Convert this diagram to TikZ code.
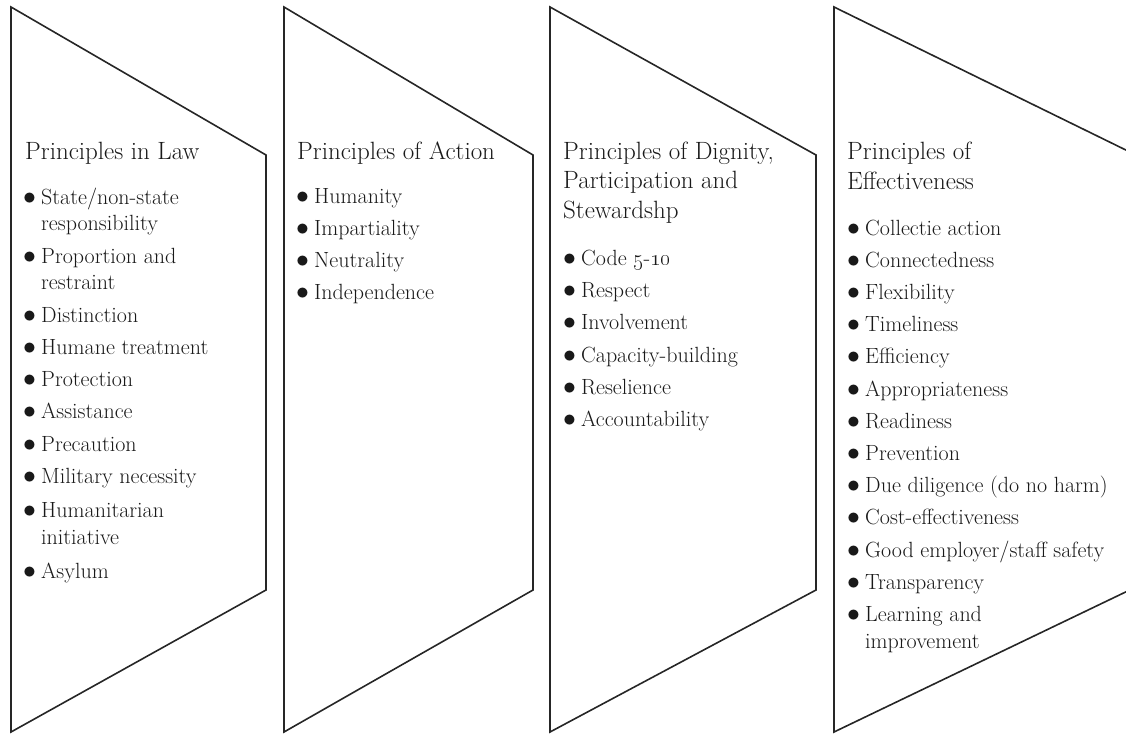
\RequirePackage{fix-cm}
\documentclass[tikz,border=0pt]{standalone}
\newcommand\bul{\makebox[18pt][l]{\scalebox{1.17}{$\bullet$}}}
\begin{document}
\begin{tikzpicture}[x=1pt,y=-1pt,
  chev/.style={draw=black!85, line width=1.6pt, line join=miter},
  ttl/.style={anchor=base west, inner sep=0pt, text=black!90, font=\fontsize{25}{30}\selectfont},
  itm/.style={anchor=base west, inner sep=0pt, text=black!90, font=\fontsize{22}{27}\selectfont}]
\clip (0,0) rectangle (1126,733);
% chevron shapes
\draw[chev] (11,7) -- (266,155) -- (266,590) -- (11,732) -- cycle;
\draw[chev] (284,7) -- (533,155) -- (533,590) -- (284,732) -- cycle;
\draw[chev] (550,7) -- (816,155) -- (816,590) -- (550,732) -- cycle;
\draw[chev] (834,7) -- (1136,155) -- (1136,587) -- (834,732) -- cycle;
% column 1
\node[ttl] (law) at (25,159) {Principles in Law};
\node[itm] (l1)  at (23,204) {\bul State/non-state};
\node[itm] (l1b) at (41,230) {responsibility};
\node[itm] (l2)  at (23,263) {\bul Proportion and};
\node[itm] (l2b) at (41,289) {restraint};
\node[itm] (l3)  at (23,322) {\bul Distinction};
\node[itm] (l4)  at (23,354) {\bul Humane treatment};
\node[itm] (l5)  at (23,386) {\bul Protection};
\node[itm] (l6)  at (23,418) {\bul Assistance};
\node[itm] (l7)  at (23,451) {\bul Precaution};
\node[itm] (l8)  at (23,483) {\bul Military necessity};
\node[itm] (l9)  at (23,517) {\bul Humanitarian};
\node[itm] (l9b) at (41,544) {initiative};
\node[itm] (l10) at (23,578) {\bul Asylum};
% column 2
\node[ttl] (act) at (297,159) {Principles of Action};
\node[itm] (a1) at (296,203) {\bul Humanity};
\node[itm] (a2) at (296,235) {\bul Impartiality};
\node[itm] (a3) at (296,267) {\bul Neutrality};
\node[itm] (a4) at (296,299) {\bul Independence};
% column 3
\node[ttl] (dig)  at (563,159) {Principles of Dignity,};
\node[ttl] (digb) at (563,188.5) {Participation and};
\node[ttl] (digc) at (563,218) {Stewardshp};
\node[itm] (d1) at (563,265) {\bul Code \oldstylenums{5}-\oldstylenums{10}};
\node[itm] (d2) at (563,297) {\bul Respect};
\node[itm] (d3) at (563,329.5) {\bul Involvement};
\node[itm] (d4) at (563,362) {\bul Capacity-building};
\node[itm] (d5) at (563,394) {\bul Reselience};
\node[itm] (d6) at (563,426) {\bul Accountability};
% column 4
\node[ttl] (eff)  at (847,159) {Principles of};
\node[ttl] (effb) at (847,189) {Effectiveness};
\node[itm] (e1)  at (847,235)   {\bul Collectie action};
\node[itm] (e2)  at (847,267.2) {\bul Connectedness};
\node[itm] (e3)  at (847,299.4) {\bul Flexibility};
\node[itm] (e4)  at (847,331.6) {\bul Timeliness};
\node[itm] (e5)  at (847,363.8) {\bul Efficiency};
\node[itm] (e6)  at (847,396)   {\bul Appropriateness};
\node[itm] (e7)  at (847,428.2) {\bul Readiness};
\node[itm] (e8)  at (847,460.4) {\bul Prevention};
\node[itm] (e9)  at (847,492.6) {\bul Due diligence (do no harm)};
\node[itm] (e10) at (847,524.8) {\bul Cost-effectiveness};
\node[itm] (e11) at (847,557)   {\bul Good employer/staff safety};
\node[itm] (e12) at (847,589.2) {\bul Transparency};
\node[itm] (e13) at (847,621.4) {\bul Learning and};
\node[itm] (e13b) at (865,648)  {improvement};
\end{tikzpicture}
\end{document}
